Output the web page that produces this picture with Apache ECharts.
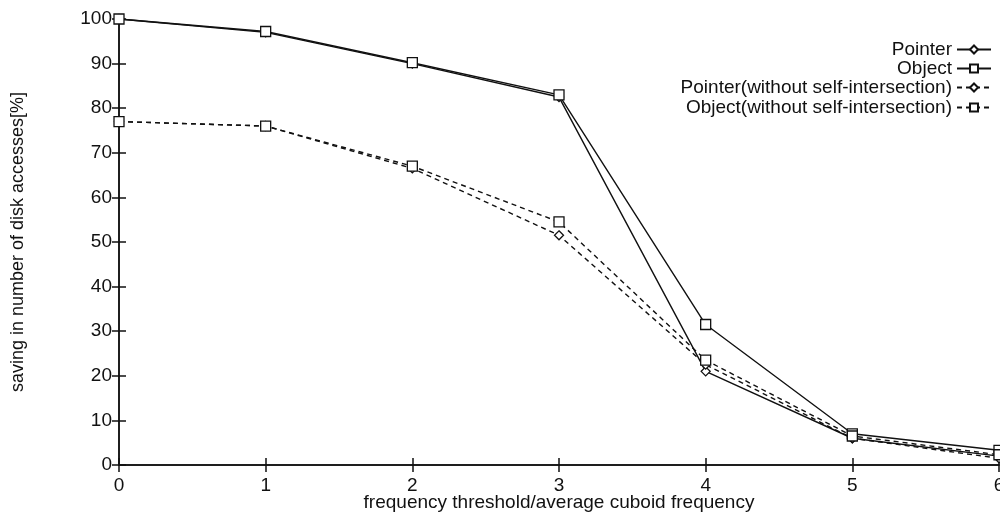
<!DOCTYPE html>
<html>
<head>
<meta charset="utf-8">
<script src="https://cdn.jsdelivr.net/npm/echarts@6/dist/echarts.min.js"></script>
<style>
  html,body{margin:0;padding:0;background:#fff;}
  #main{width:1000px;height:516px;}
</style>
</head>
<body>
<div id="main"></div>
<script>
// 数据
let xValues=[0,1,2,3,4,5,6];
let pointer=[100,97,90,82.5,21,6,2];
let object=[100,97.2,90.2,83,31.5,7,3.3];
let pointerNoSelf=[77,76,66.5,51.5,22.5,6,1.5];
let objectNoSelf=[77,76,67,54.5,23.5,6.5,2.3];
let names=["Pointer","Object","Pointer(without self-intersection)","Object(without self-intersection)"];

let mychart=echarts.init(document.getElementById('main'));

function pairs(ys){
  return xValues.map(function(x,i){return [x,ys[i]];});
}

function makeSeries(name,ys,symbol,size,dashed){
  return {
    name:name,
    type:'line',
    data:pairs(ys),
    symbol:symbol,
    symbolSize:size,
    showAllSymbol:true,
    itemStyle:{color:'#fff',borderColor:'#111',borderWidth:1.3},
    lineStyle:{color:'#111',width:1.4,type:dashed?[5,4]:'solid'},
    emphasis:{disabled:true},
    z:3
  };
}

// 每个图例单独放，右对齐
let legendTops=[35,54,73,93];
let legends=names.map(function(n,i){
  return {
    data:[n],
    right:3,
    top:legendTops[i],
    align:'right',
    itemWidth:34,
    itemHeight:10,
    itemGap:0,
    selectedMode:false,
    textStyle:{color:'#111',fontSize:19,fontFamily:'Liberation Sans'}
  };
});

let font={color:'#111',fontFamily:'Liberation Sans'};

let option={
  animation:false,
  backgroundColor:'#fff',
  legend:legends,
  grid:{left:119,right:1,top:19,bottom:51,outerBoundsMode:'none'},
  xAxis:[{
    type:'value',
    min:0,max:6,interval:1,
    name:'frequency threshold/average cuboid frequency',
    nameLocation:'middle',
    nameGap:28,
    nameMoveOverlap:false,
    nameTextStyle:Object.assign({fontSize:19},font),
    axisLine:{lineStyle:{color:'#111',width:1.5}},
    axisTick:{inside:true,length:7,lineStyle:{color:'#111',width:1.5}},
    axisLabel:Object.assign({fontSize:19,margin:11},font),
    splitLine:{show:false}
  },{
    type:'value',
    position:'top',
    min:0,max:6,interval:1,
    axisLine:{show:true,lineStyle:{color:'#111',width:1.5}},
    axisTick:{inside:true,length:7,lineStyle:{color:'#111',width:1.5}},
    axisLabel:{show:false},
    splitLine:{show:false}
  }],
  yAxis:[{
    type:'value',
    min:0,max:100,interval:10,
    name:'saving in number of disk accesses[%]',
    nameLocation:'middle',
    nameGap:92,
    nameMoveOverlap:false,
    nameTextStyle:Object.assign({fontSize:18},font),
    axisLine:{show:true,lineStyle:{color:'#111',width:1.5}},
    axisTick:{show:true,inside:true,length:7,lineStyle:{color:'#111',width:1.5}},
    axisLabel:Object.assign({fontSize:19,margin:7},font),
    splitLine:{show:false}
  },{
    type:'value',
    position:'right',
    min:0,max:100,interval:10,
    axisLine:{show:true,lineStyle:{color:'#111',width:1.5}},
    axisTick:{show:true,inside:true,length:7,lineStyle:{color:'#111',width:1.5}},
    axisLabel:{show:false},
    splitLine:{show:false}
  }],
  series:[
    makeSeries(names[0],pointer,'diamond',9,false),
    makeSeries(names[1],object,'rect',10,false),
    makeSeries(names[2],pointerNoSelf,'diamond',9,true),
    makeSeries(names[3],objectNoSelf,'rect',10,true)
  ]
};

mychart.setOption(option);
</script>
</body>
</html>
